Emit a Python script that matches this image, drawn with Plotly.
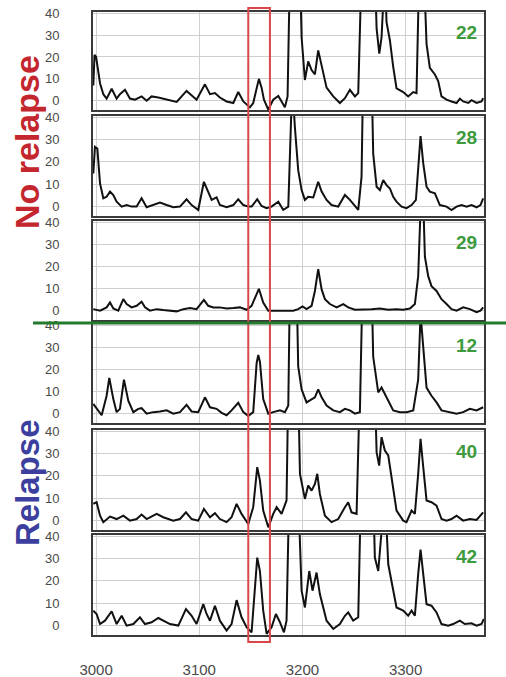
import plotly.graph_objects as go

# ---------------- data ----------------
sample_ids = ["22", "28", "29", "12", "40", "42"]
group_labels = ["No relapse", "Relapse"]
x_ticks = [3000, 3100, 3200, 3300]
y_ticks = [0, 10, 20, 30, 40]
highlight_band = [3147.5, 3168.5]

x_22 = [2997.3, 2998.5, 3000.0, 3003.8, 3007.0, 3010.2, 3013.5, 3015.1, 3019.9, 3023.1, 3028.0, 3032.8,
        3037.7, 3044.1, 3049.0, 3053.8, 3060.3, 3068.4, 3078.1, 3087.7, 3094.2, 3097.4, 3105.5, 3110.4,
        3115.2, 3120.0, 3126.5, 3133.0, 3137.8, 3142.7, 3149.1, 3152.3, 3157.8, 3160.4, 3162.7, 3166.9,
        3171.7, 3176.6, 3179.8, 3183.0, 3185.6, 3187.9, 3197.6, 3199.2, 3202.4, 3205.6, 3208.9, 3212.1,
        3215.3, 3218.6, 3223.4, 3229.9, 3236.3, 3241.2, 3246.0, 3250.9, 3254.1, 3257.3, 3270.2, 3271.9,
        3274.5, 3276.7, 3278.3, 3279.9, 3281.5, 3284.8, 3288.0, 3291.2, 3297.7, 3302.5, 3307.4, 3310.6,
        3313.2, 3317.7, 3320.3, 3323.5, 3328.4, 3331.6, 3334.8, 3339.7, 3344.5, 3349.4, 3352.6, 3355.8,
        3360.7, 3363.9, 3368.8, 3373.6, 3375.2]
y_22 = [7, 21, 20, 8, 3, 1, 4, 5.5, 1, 3, 5, 1,
        0.5, 2, 0, 2, 1.5, 0.5, -0.5, 4.5, 2, 0.5, 7.5, 3,
        3.5, 1.5, -0.3, -1, 4, -0.3, -3, -1, 10, 6, 0.5, -4,
        0.5, 2.2, -0.3, -3, 2, 60, 60, 29, 9.5, 18, 14, 12,
        23, 15.5, 6, 2, -1, 1.2, 5, 2, 3.5, 60, 60, 33,
        21.5, 29, 60, 60, 36, 27.5, 15.5, 5.7, 4, 2, 4, 3.5,
        60, 60, 26, 15, 12, 9, 2, 0.5, -0.3, -1, 1, -0.3,
        -1, 0.3, -1, -0.3, 1.2]

x_28 = [2997.3, 2998.9, 3001.2, 3003.8, 3007.0, 3010.2, 3013.5, 3016.7, 3019.9, 3024.8, 3029.6, 3034.4,
        3039.3, 3044.1, 3049.0, 3055.4, 3061.9, 3068.4, 3074.8, 3081.3, 3087.7, 3092.6, 3099.0, 3104.5,
        3108.7, 3112.0, 3116.8, 3120.0, 3126.5, 3133.0, 3137.8, 3142.7, 3147.5, 3150.7, 3156.2, 3160.4,
        3165.3, 3170.1, 3176.6, 3181.4, 3186.3, 3187.9, 3190.1, 3192.7, 3195.9, 3199.2, 3202.4, 3205.6,
        3210.5, 3215.3, 3218.6, 3223.4, 3228.2, 3234.7, 3241.2, 3246.0, 3250.9, 3254.1, 3257.3, 3258.9,
        3267.0, 3268.6, 3271.9, 3275.1, 3278.3, 3281.5, 3284.8, 3288.0, 3291.2, 3296.1, 3300.9, 3305.8,
        3310.0, 3312.2, 3314.5, 3317.1, 3320.3, 3323.5, 3328.4, 3333.2, 3339.7, 3344.5, 3349.4, 3354.2,
        3359.1, 3363.9, 3368.8, 3372.6, 3375.2]
y_28 = [14.8, 26.7, 26, 10.4, 3.7, 4.4, 6.7, 5.2, 2.2, 0, 0.7, 0,
        0, 3.7, -0.3, 0.7, 1.8, 0.7, -0.3, 0, 3.3, 0.7, -1.5, 11.1,
        6.7, 3, 4.1, 0.7, -0.3, 0.7, 3.3, 0.7, 0, 0, 3.3, 0.3,
        -0.7, 0, 2.2, -1.5, 0, 28, 55, 35.5, 16.3, 7.4, 3, 4.4,
        4.1, 11.1, 6.7, 3, 0.7, 0, 5.2, 3, 0, -1.5, 13.3, 60,
        60, 23.7, 8.9, 7.4, 11.9, 9.6, 8.1, 4.4, 2.2, 0, -0.7, 0.7,
        3, 16.3, 31.5, 19.3, 8.9, 6.7, 5.9, 0.7, 0, -1.5, 0, 0.7,
        0, 0.7, -0.3, 0.7, 3.7]

x_29 = [2997.3, 3003.8, 3010.2, 3013.5, 3016.7, 3021.5, 3026.4, 3029.6, 3034.4, 3039.3, 3044.1, 3047.4,
        3052.2, 3058.7, 3065.1, 3071.6, 3078.1, 3084.5, 3091.0, 3097.4, 3104.5, 3108.7, 3113.6, 3120.0,
        3126.5, 3133.0, 3139.4, 3145.9, 3150.7, 3157.8, 3162.0, 3166.9, 3171.7, 3178.2, 3184.6, 3191.1,
        3195.9, 3200.1, 3204.0, 3208.9, 3212.1, 3215.3, 3218.6, 3221.8, 3226.6, 3233.1, 3239.6, 3244.4,
        3250.9, 3258.9, 3267.0, 3275.1, 3283.2, 3291.2, 3297.7, 3304.2, 3309.0, 3312.2, 3313.8, 3314.8,
        3317.1, 3318.7, 3321.9, 3325.1, 3330.0, 3334.8, 3339.7, 3344.5, 3349.4, 3355.8, 3362.3, 3368.8,
        3372.6, 3375.2]
y_29 = [0.7, 0, 1.5, 3.7, 1, 0, 5.2, 3, 1.5, 2.2, 4, 1.5,
        0, 0.7, 0.3, 0, -0.3, 0.7, 1.2, 0.7, 4.9, 2.2, 1.5, 1.5,
        1, 1.2, 1.5, 0.4, 2.2, 9.9, 3.7, 0, 0, 0, 0, 0,
        0.7, 1.9, 0.7, 2.2, 8.9, 18.8, 9.6, 5.2, 3, 1.5, 3, 1.5,
        0.4, 0.4, 0.7, 1, 0.4, 0.7, 0.4, 1, 3, 15.6, 36.3, 50,
        50, 24.4, 15.6, 11.1, 8.9, 5.2, 3, 0.7, 0, 1.5, 0.7, -0.7,
        0, 1.5]

x_12 = [2997.3, 3000.5, 3005.4, 3010.2, 3012.8, 3016.7, 3019.9, 3023.1, 3027.0, 3031.2, 3036.1, 3040.9,
        3044.1, 3049.0, 3055.4, 3061.9, 3068.4, 3074.8, 3081.3, 3087.7, 3092.6, 3099.0, 3105.5, 3110.4,
        3116.8, 3121.7, 3126.5, 3131.3, 3137.8, 3142.7, 3147.5, 3152.3, 3155.6, 3157.2, 3158.8, 3162.0,
        3166.9, 3171.7, 3178.2, 3183.0, 3186.3, 3187.9, 3194.3, 3195.9, 3199.2, 3204.0, 3208.9, 3212.1,
        3215.3, 3218.6, 3223.4, 3229.9, 3236.3, 3241.2, 3246.0, 3250.9, 3255.7, 3258.3, 3267.0, 3268.6,
        3273.5, 3276.7, 3281.5, 3284.8, 3288.0, 3294.5, 3300.9, 3307.4, 3312.2, 3314.5, 3317.1, 3320.3,
        3325.1, 3330.0, 3334.8, 3342.9, 3349.4, 3355.8, 3362.3, 3368.8, 3375.2]
y_12 = [4.4, 2.2, -0.7, 8.1, 16.2, 6.6, 0.7, 2.2, 15.4, 5.9, 0.7, 2.2,
        2.5, 0, 0.7, 1, 1.5, 0, 0.7, 4, 1, 0.7, 7.4, 2.9,
        2.2, 0.4, -0.7, 1.5, 4.9, 0.7, -1, 0.7, 22.8, 26.5, 23.5, 6.6,
        0, 0.7, 1.5, 0.7, 3.7, 60, 60, 21.3, 11, 5.1, 6.6, 7.4,
        11, 7.4, 3.7, 1.5, 0.7, 2.2, 1.5, 0, 0.7, 60, 60, 25.7,
        9.6, 11.8, 7.4, 4.4, 1.5, 0.7, 0.7, 1.5, 15.4, 45, 28.7, 11.8,
        8.1, 5.1, 1.5, 0.7, 0, 0.7, 2.2, 1.5, 2.9]

x_40 = [2997.3, 3000.5, 3003.8, 3007.0, 3013.5, 3019.9, 3026.4, 3032.8, 3039.3, 3044.1, 3049.0, 3058.7,
        3065.1, 3074.8, 3081.3, 3087.1, 3092.6, 3099.0, 3104.5, 3110.4, 3115.2, 3120.0, 3126.5, 3131.3,
        3136.2, 3141.0, 3147.5, 3152.3, 3156.2, 3158.8, 3162.0, 3166.9, 3171.7, 3175.0, 3179.8, 3184.6,
        3186.3, 3195.9, 3197.6, 3202.4, 3205.6, 3208.9, 3212.1, 3214.4, 3216.9, 3221.8, 3228.2, 3234.7,
        3241.2, 3244.4, 3247.6, 3252.5, 3255.7, 3270.2, 3271.9, 3274.4, 3276.7, 3279.9, 3283.2, 3286.4,
        3291.2, 3297.7, 3300.9, 3305.8, 3309.0, 3312.2, 3314.5, 3317.1, 3320.3, 3325.1, 3330.0, 3334.8,
        3339.7, 3344.5, 3349.4, 3355.8, 3362.3, 3368.8, 3375.2]
y_40 = [7.5, 8.2, 2.2, -0.7, 1.8, 0.7, 2.2, 0, 0.7, 2.7, 0.7, 3,
        1.5, 0, 0.7, 3.7, 0.7, 0, 5.2, 1.5, 3.3, 0.7, -0.7, 1.5,
        7.5, 3, -1.5, 6, 23.9, 17.9, 4.5, -3, 3, 6, 3, 9,
        60, 60, 20.9, 9.7, 15.7, 13.4, 16.4, 20.9, 11.9, 2.2, -0.7, 0.7,
        6, 8.2, 3.7, 3, 60, 60, 30.6, 24.6, 37.3, 31.3, 29.1, 19.4,
        4.5, 0, -0.7, 4.5, 3, 20.9, 36.6, 23.9, 9, 8.2, 6.7, 0.7,
        0, 0.7, 2.2, 0, 0.7, 0.3, 3.7]

x_42 = [2997.3, 3000.5, 3003.8, 3008.6, 3015.1, 3019.9, 3024.8, 3029.6, 3036.1, 3042.5, 3047.4, 3053.8,
        3060.3, 3065.1, 3071.6, 3079.7, 3087.1, 3092.6, 3097.4, 3103.9, 3107.1, 3110.4, 3115.2, 3120.0,
        3126.5, 3131.3, 3136.2, 3141.0, 3145.9, 3150.7, 3154.0, 3156.2, 3158.8, 3162.0, 3165.3, 3170.1,
        3174.3, 3178.2, 3182.1, 3184.6, 3187.2, 3195.9, 3199.2, 3202.4, 3206.6, 3209.8, 3213.7, 3216.9,
        3223.4, 3229.9, 3236.3, 3241.2, 3244.4, 3249.2, 3254.1, 3256.7, 3268.6, 3270.2, 3273.5, 3275.7,
        3277.7, 3279.9, 3283.2, 3288.0, 3291.2, 3297.7, 3302.5, 3305.8, 3309.0, 3312.2, 3314.5, 3317.1,
        3320.3, 3325.1, 3330.0, 3334.8, 3341.3, 3346.1, 3352.6, 3357.4, 3363.9, 3368.8, 3373.6, 3375.9]
y_42 = [6.7, 5.2, 0.7, 2.2, 6.4, 0.7, 4.4, 0, 0.7, 3.7, 0.7, 1.5,
        3.4, 2.2, 0.7, 0, 7.4, 4.4, 0.7, 9.6, 5.2, 2.2, 8.9, 2.2,
        -2.2, 0.7, 11.4, 3.7, -0.7, -3, 15.6, 30.4, 24.4, 6.7, -3.7, -0.7,
        5.2, 1.5, -3, 2.2, 60, 60, 15.6, 8.1, 24.4, 15.6, 23.7, 14.1,
        2.2, -1.5, 0.7, 4.4, 5.9, 2.2, 3.7, 60, 60, 30.4, 24.4, 39.3,
        60, 60, 27.4, 15.6, 8.1, 6.7, 4.4, 6.7, 4.4, 23, 34, 23,
        9.6, 8.9, 5.9, 0.7, 0, 0.7, 2.2, 0.7, 1, 0, 0.7, 3]

series_x = [x_22, x_28, x_29, x_12, x_40, x_42]
series_y = [y_22, y_28, y_29, y_12, y_40, y_42]

# ---------------- layout helpers ----------------
W, H = 506, 677
X_DOMAIN = [93 / W, 484 / W]
panel_px = [(12, 110), (116, 216), (221, 320), (324, 423), (430, 530), (535, 635)]
y_domains = [[1 - b / H, 1 - t / H] for t, b in panel_px]

FONT = "Liberation Sans, Arial, sans-serif"
GRID = "#cfcfcf"
FRAME = "#3a3a3a"

fig = go.Figure()
layout = dict(
    width=W, height=H,
    margin=dict(l=0, r=0, t=0, b=0, autoexpand=False),
    paper_bgcolor="white", plot_bgcolor="white",
    showlegend=False,
    font=dict(family=FONT),
)

annotations = []
for i in range(6):
    n = "" if i == 0 else str(i + 1)
    fig.add_trace(go.Scatter(
        x=series_x[i], y=series_y[i], mode="lines",
        line=dict(color="#111111", width=2),
        xaxis="x" + n, yaxis="y" + n, hoverinfo="skip",
    ))
    layout["xaxis" + n] = dict(
        domain=X_DOMAIN, range=[2997, 3376], anchor="y" + n,
        tickvals=x_ticks, ticktext=[str(v) for v in x_ticks],
        showticklabels=(i == 5), ticks="",
        ticklabelstandoff=20, automargin=False,
        tickfont=dict(size=15, color="#4a4a4a", family=FONT),
        showgrid=True, gridcolor=GRID, gridwidth=1,
        showline=True, mirror=True, linecolor=FRAME, linewidth=2,
        zeroline=False, fixedrange=True,
    )
    layout["yaxis" + n] = dict(
        domain=y_domains[i], range=[-4.2, 40.5], anchor="x" + n,
        tickvals=y_ticks, ticktext=[str(v) for v in y_ticks],
        ticks="", ticklabelstandoff=29, automargin=False,
        tickfont=dict(size=13, color="#4a4a4a", family=FONT),
        showgrid=True, gridcolor=GRID, gridwidth=1,
        showline=True, mirror=True, linecolor=FRAME, linewidth=2,
        zeroline=False, fixedrange=True,
    )
    annotations.append(dict(
        text="<b>" + sample_ids[i] + "</b>", x=3371, y=31,
        xref="x" + n, yref="y" + n, xanchor="right", yanchor="middle",
        showarrow=False, font=dict(size=19, color="#3d9b3d", family=FONT),
    ))

annotations.append(dict(
    text="<b>" + group_labels[0] + "</b>", x=27 / W, y=1 - 142 / H,
    xref="paper", yref="paper", xanchor="center", yanchor="middle",
    textangle=-90, showarrow=False,
    font=dict(size=34, color="#c4262e", family=FONT),
))
annotations.append(dict(
    text="<b>" + group_labels[1] + "</b>", x=27 / W, y=1 - 483 / H,
    xref="paper", yref="paper", xanchor="center", yanchor="middle",
    textangle=-90, showarrow=False,
    font=dict(size=33, color="#3c3f9e", family=FONT),
))
layout["annotations"] = annotations

layout["shapes"] = [
    dict(type="rect", xref="x6", yref="paper",
         x0=highlight_band[0], x1=highlight_band[1],
         y0=1 - 642 / H, y1=1 - 8 / H,
         line=dict(color="#d9474b", width=2), fillcolor="rgba(0,0,0,0)", layer="above"),
    dict(type="line", xref="paper", yref="paper",
         x0=33 / W, x1=1.0, y0=1 - 323 / H, y1=1 - 323 / H,
         line=dict(color="#237a2c", width=3), layer="above"),
]

fig.update_layout(**layout)
fig.write_html("out.html")
